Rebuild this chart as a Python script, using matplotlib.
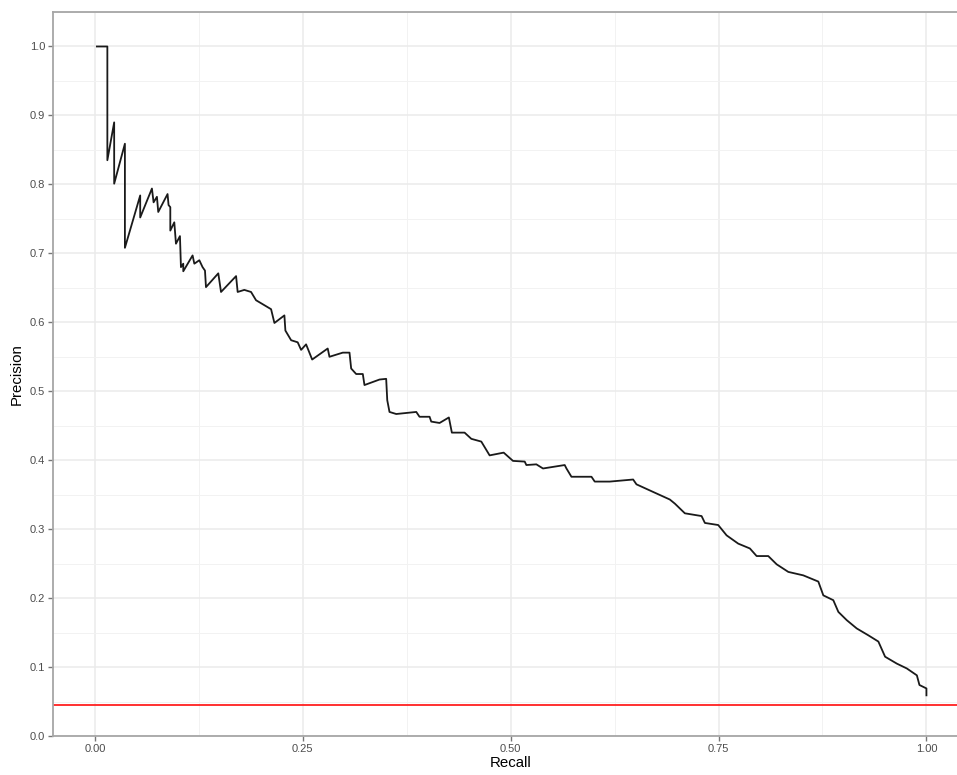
import numpy as np
import matplotlib
matplotlib.use("Agg")
import matplotlib.pyplot as plt
from matplotlib.ticker import MultipleLocator, FixedLocator

# precision-recall curve vertices
recall = [0.0024, 0.015, 0.015, 0.0232, 0.0232, 0.0361, 0.0361, 0.0545, 0.0545,
          0.0686, 0.0706, 0.0746, 0.0762, 0.0874, 0.0886, 0.0907, 0.0907, 0.0955,
          0.0975, 0.1023, 0.1035, 0.1063, 0.1063, 0.1175, 0.1196, 0.1256, 0.1295,
          0.1324, 0.1336, 0.1484, 0.1517, 0.1698, 0.1717, 0.1797, 0.1878, 0.1938,
          0.2119, 0.2159, 0.2279, 0.2291, 0.2360, 0.2439, 0.2480, 0.2540, 0.2613,
          0.2800, 0.2821, 0.2981, 0.3062, 0.3082, 0.3142, 0.3222, 0.3242, 0.3423,
          0.3503, 0.3516, 0.3543, 0.3624, 0.3865, 0.3904, 0.4025, 0.4045, 0.4145,
          0.4257, 0.4293, 0.4446, 0.4527, 0.4647, 0.4747, 0.4916, 0.5028, 0.5169,
          0.5189, 0.5309, 0.5389, 0.5650, 0.5671, 0.5731, 0.5972, 0.6011, 0.6192,
          0.6473, 0.6513, 0.6713, 0.6914, 0.6975, 0.7095, 0.7296, 0.7336, 0.7496,
          0.7597, 0.7737, 0.7877, 0.7958, 0.8098, 0.8199, 0.8339, 0.8519, 0.8700,
          0.8760, 0.8880, 0.8941, 0.9042, 0.9162, 0.9302, 0.9422, 0.9503, 0.9644,
          0.9764, 0.9885, 0.9916, 1.0, 1.0]
precision = [1.0, 1.0, 0.835, 0.890, 0.801, 0.859, 0.708, 0.784, 0.752,
             0.794, 0.774, 0.782, 0.760, 0.786, 0.770, 0.767, 0.733, 0.745,
             0.714, 0.725, 0.680, 0.685, 0.674, 0.697, 0.685, 0.690, 0.680,
             0.675, 0.651, 0.671, 0.644, 0.667, 0.644, 0.647, 0.644, 0.632,
             0.619, 0.599, 0.610, 0.588, 0.574, 0.571, 0.560, 0.568, 0.546,
             0.562, 0.550, 0.556, 0.556, 0.533, 0.525, 0.525, 0.509, 0.517,
             0.518, 0.487, 0.470, 0.467, 0.470, 0.463, 0.463, 0.456, 0.454,
             0.462, 0.440, 0.440, 0.431, 0.427, 0.407, 0.411, 0.399, 0.398,
             0.393, 0.394, 0.388, 0.393, 0.388, 0.376, 0.376, 0.369, 0.369,
             0.372, 0.365, 0.354, 0.343, 0.337, 0.323, 0.319, 0.309, 0.306,
             0.291, 0.279, 0.272, 0.261, 0.261, 0.249, 0.238, 0.233, 0.224,
             0.204, 0.197, 0.180, 0.168, 0.156, 0.146, 0.137, 0.115, 0.105,
             0.098, 0.088, 0.074, 0.069, 0.059]
baseline = 0.045

x_ticks = [0.0, 0.25, 0.5, 0.75, 1.0]
x_labels = ["0.00", "0.25", "0.50", "0.75", "1.00"]
y_ticks = [0.0, 0.1, 0.2, 0.3, 0.4, 0.5, 0.6, 0.7, 0.8, 0.9, 1.0]
y_labels = ["0.0", "0.1", "0.2", "0.3", "0.4", "0.5", "0.6", "0.7", "0.8", "0.9", "1.0"]

plt.rcParams["font.family"] = ["Liberation Sans", "DejaVu Sans"]

fig = plt.figure(figsize=(9.57, 7.75), dpi=100)
# panel runs a bit past the right edge, as in the cropped reference
ax = fig.add_axes([0.0557, 0.0503, 0.9558, 0.9342])

ax.set_xlim(-0.05, 1.05)
ax.set_ylim(0.0, 1.05)

ax.xaxis.set_major_locator(FixedLocator(x_ticks))
ax.yaxis.set_major_locator(FixedLocator(y_ticks))
ax.xaxis.set_minor_locator(MultipleLocator(0.125))
ax.yaxis.set_minor_locator(MultipleLocator(0.05))
ax.set_xticklabels(x_labels)
ax.set_yticklabels(y_labels)

ax.grid(which="major", color="#EBEBEB", linewidth=1.1, zorder=0)
ax.grid(which="minor", color="#F2F2F2", linewidth=0.7, zorder=0)
ax.set_axisbelow(True)

for s in ax.spines.values():
    s.set_color("#A6A6A6")
    s.set_linewidth(1.3)

ax.tick_params(which="major", length=3.5, width=1.0, color="#777777",
               labelcolor="#4D4D4D", labelsize=8.0, pad=2.5)
ax.tick_params(which="minor", length=0)

ax.plot(recall, precision, color="#1A1A1A", linewidth=1.3, zorder=3)
ax.axhline(baseline, color="#FF2020", linewidth=1.3, zorder=2)

ax.set_xlabel("Recall", fontsize=10.8, labelpad=1)
ax.set_ylabel("Precision", fontsize=10.8, labelpad=4)

fig.savefig("out.png", dpi=100)
